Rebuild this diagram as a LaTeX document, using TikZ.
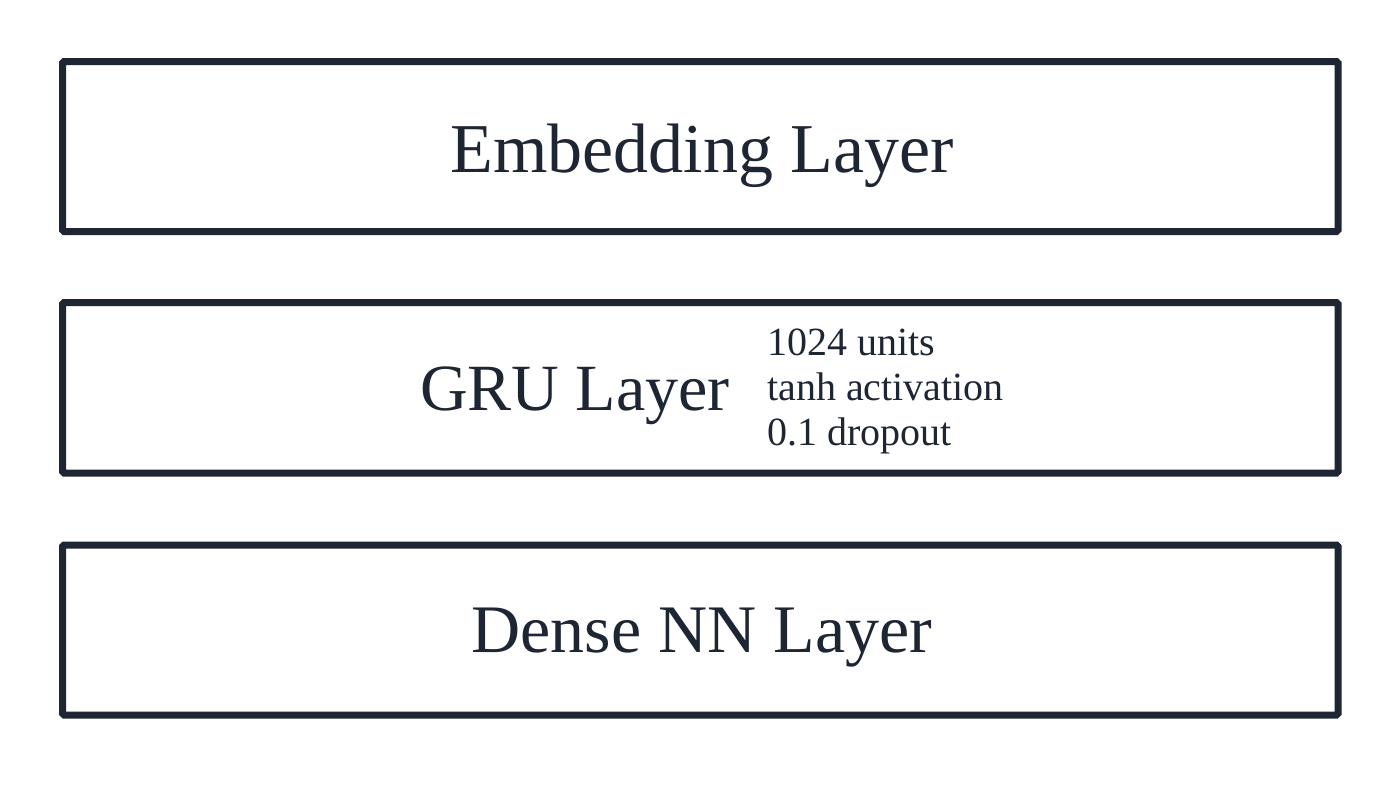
\documentclass[tikz,border=0pt]{standalone}
\usepackage{fontspec}
\setmainfont{Liberation Serif}
\definecolor{ink}{HTML}{1E2533}
\begin{document}
\begin{tikzpicture}[x=1pt,y=-1pt,
  layer/.style={draw=ink,line width=7pt,rounded corners=1.5pt},
  big/.style={text=ink,font=\fontsize{70}{80}\selectfont,inner sep=0pt},
  small/.style={text=ink,font=\fontsize{40}{45}\selectfont,inner sep=0pt,align=left}]
\useasboundingbox[fill=white] (0,0) rectangle (1400,788);
\draw[layer] (62.5,61.5) rectangle (1338,231.5);
\draw[layer] (62.5,302.5) rectangle (1338,473);
\draw[layer] (62.5,545) rectangle (1338,715);
\node[big,anchor=base] (emb) at (702,172) {Embedding Layer};
\node[big,anchor=base,font=\fontsize{66}{76}\selectfont] (gru) at (575,410) {GRU Layer};
\node[small,anchor=base west] (u1) at (767,355) {1024 units};
\node[small,anchor=base west] (u2) at (767,400) {tanh activation};
\node[small,anchor=base west] (u3) at (767,445) {0.1 dropout};
\node[big,anchor=base,font=\fontsize{68}{78}\selectfont] (dense) at (702,652) {Dense NN Layer};
\end{tikzpicture}
\end{document}
